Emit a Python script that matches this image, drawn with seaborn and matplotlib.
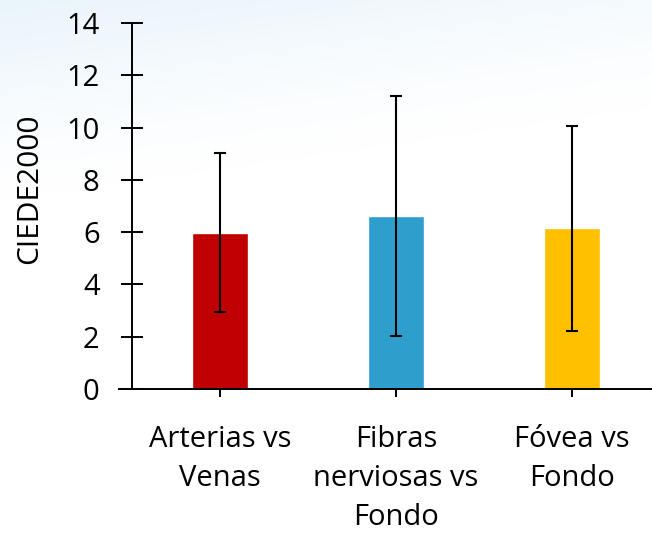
import numpy as np
import pandas as pd
import matplotlib
matplotlib.use("Agg")
import matplotlib.pyplot as plt
import seaborn as sns

# Mean CIEDE2000 colour difference per region pair, with standard deviations
categories = ["Arterias vs\nVenas", "Fibras\nnerviosas vs\nFondo", "Fóvea vs\nFondo"]
means = [5.98, 6.60, 6.14]
stds = [3.04, 4.59, 3.91]
bar_colors = ["#C00000", "#2E9FCD", "#FFC000"]
y_ticks = [0, 2, 4, 6, 8, 10, 12, 14]

sns.set_theme(style="white")
plt.rcParams["font.family"] = ["Open Sans", "DejaVu Sans"]

W, H, DPI = 652, 534, 100
fig = plt.figure(figsize=(W / DPI, H / DPI), dpi=DPI)

# soft bluish wash in the upper-left corner of the background
bg = fig.add_axes([0, 0, 1, 1], zorder=-10)
yy, xx = np.mgrid[0:H, 0:W]
alpha = np.clip(1.0 - yy / 200.0 - xx / 1400.0, 0, 1) ** 1.3
img = np.ones((H, W, 3))
tint = np.array([0.915, 0.958, 0.985])
img = img * (1 - alpha[..., None]) + tint * alpha[..., None]
bg.imshow(img, aspect="auto", extent=[0, 1, 0, 1])
bg.set_axis_off()

left_px, right_px = 132, 660
top_px, bottom_px = 23, 389
ax = fig.add_axes([left_px / W, 1 - bottom_px / H,
                   (right_px - left_px) / W, (bottom_px - top_px) / H])
ax.patch.set_alpha(0)

df = pd.DataFrame({"cat": categories, "val": means})
sns.barplot(data=df, x="cat", y="val", hue="cat", palette=bar_colors,
            width=0.318, errorbar=None, legend=False, ax=ax, saturation=1)
ax.errorbar(range(len(categories)), means, yerr=stds, fmt="none",
            ecolor="black", elinewidth=1.5, capsize=4.6, capthick=1.5, zorder=5)

ax.set_xlim(-0.5, 2.5)
ax.set_ylim(0, 14)
ax.set_yticks(y_ticks)
ax.set_yticklabels([str(t) for t in y_ticks])

for s in ["top", "right"]:
    ax.spines[s].set_visible(False)
for s in ["left", "bottom"]:
    ax.spines[s].set_color("black")
    ax.spines[s].set_linewidth(1.4)
ax.spines["bottom"].set_bounds(-0.5 - 13 / 176, 2.5)

ax.tick_params(axis="y", left=True, direction="inout", length=16.5, width=1.4,
               color="black", pad=15, labelsize=21, labelcolor="black")
ax.tick_params(axis="x", bottom=True, direction="inout", length=12, width=1.4,
               color="black", pad=20, labelsize=21, labelcolor="black")
for lab in ax.get_xticklabels():
    lab.set_linespacing(1.46)

ax.set_xlabel("")
ax.set_ylabel("CIEDE2000", fontsize=21.5, color="black", va="center")
ax.yaxis.set_label_coords(-0.193, 0.546)

fig.savefig("out.png", dpi=DPI)
